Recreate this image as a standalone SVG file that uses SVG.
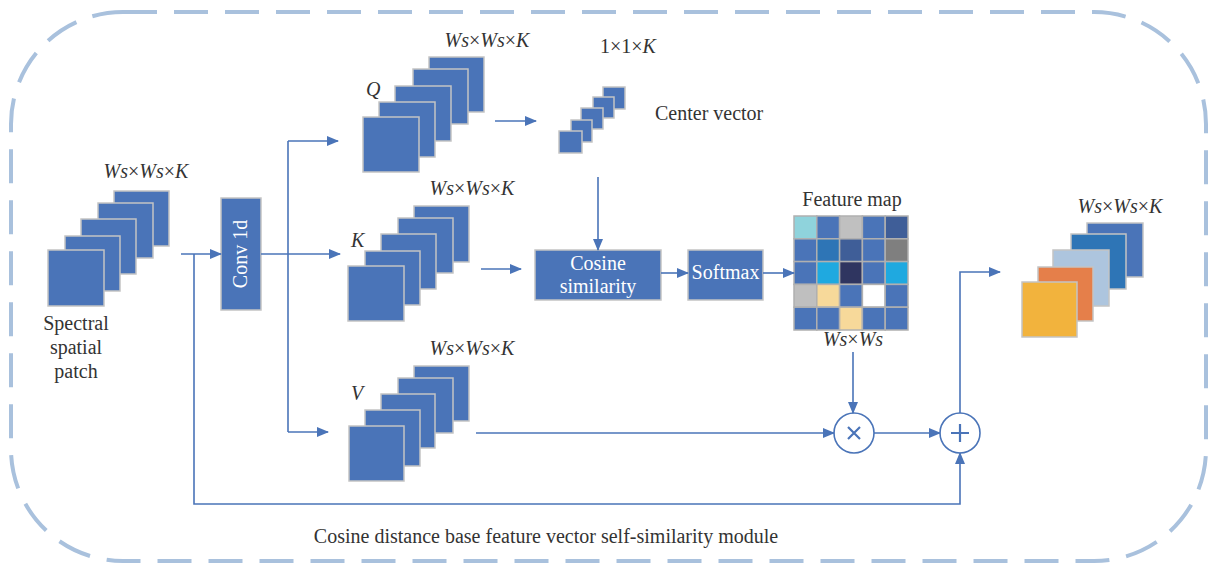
<svg xmlns="http://www.w3.org/2000/svg" width="1217" height="563" viewBox="0 0 1217 563">
<style>
.sq{fill:#4a74b8;stroke:#c4c4c4;stroke-width:1.5}
.box{fill:#4a74b8;stroke:#c4c4c4;stroke-width:1.5}
.ln{fill:none;stroke:#4a74b8;stroke-width:1.6}
.arr{marker-end:url(#ah)}
text{font-family:'Liberation Serif',serif;font-size:20px}
.t{fill:#333}
.i{font-style:italic}
.w{fill:#fff}
.fm rect{stroke:#b0b0b0;stroke-width:1.5}
</style>
<defs>
<marker id="ah" markerUnits="userSpaceOnUse" markerWidth="12" markerHeight="10" refX="11" refY="5" orient="auto">
<path d="M0,0 L12,5 L0,10 z" fill="#4a74b8"/>
</marker>
</defs>
<rect x="11" y="12" width="1195" height="549" rx="112" ry="112" fill="none" stroke="#a9c1dd" stroke-width="4" stroke-dasharray="34,17"/>

<g id="input">
<rect class="sq" x="114" y="191" width="55" height="55"/>
<rect class="sq" x="98" y="203" width="55" height="55"/>
<rect class="sq" x="81" y="219" width="55" height="55"/>
<rect class="sq" x="65" y="236" width="55" height="55"/>
<rect class="sq" x="48" y="250" width="56" height="56"/>
<text class="t" x="146" y="178" text-anchor="middle"><tspan class="i">Ws</tspan>×<tspan class="i">Ws</tspan>×<tspan class="i">K</tspan></text>
<text class="t" x="76" y="330" text-anchor="middle">Spectral</text>
<text class="t" x="76" y="354" text-anchor="middle">spatial</text>
<text class="t" x="76" y="378" text-anchor="middle">patch</text>
</g>

<g id="conv1d">
<rect class="box" x="221" y="198" width="40" height="112"/>
<text class="w" x="0" y="0" text-anchor="middle" transform="translate(247,254) rotate(-90)">Conv 1d</text>
</g>

<g id="Q">
<rect class="sq" x="429" y="57" width="55" height="55"/>
<rect class="sq" x="413" y="69" width="55" height="55"/>
<rect class="sq" x="395" y="86" width="56" height="55"/>
<rect class="sq" x="379" y="102" width="56" height="55"/>
<rect class="sq" x="363" y="117" width="56" height="55"/>
<text class="t i" x="366" y="96">Q</text>
<text class="t" x="487" y="47" text-anchor="middle"><tspan class="i">Ws</tspan>×<tspan class="i">Ws</tspan>×<tspan class="i">K</tspan></text>
</g>

<g id="center">
<rect class="sq" x="603" y="87" width="22" height="22"/>
<rect class="sq" x="593" y="97" width="21" height="21"/>
<rect class="sq" x="581" y="108" width="22" height="21"/>
<rect class="sq" x="571" y="120" width="21" height="22"/>
<rect class="sq" x="559" y="131" width="23" height="22"/>
<text class="t" x="628" y="53" text-anchor="middle">1×1×<tspan class="i">K</tspan></text>
<text class="t" x="655" y="120">Center vector</text>
</g>

<g id="K">
<rect class="sq" x="414" y="206" width="55" height="56"/>
<rect class="sq" x="398" y="218" width="55" height="55"/>
<rect class="sq" x="381" y="234" width="55" height="55"/>
<rect class="sq" x="365" y="251" width="55" height="54"/>
<rect class="sq" x="348" y="266" width="56" height="55"/>
<text class="t i" x="351" y="247">K</text>
<text class="t" x="472" y="195" text-anchor="middle"><tspan class="i">Ws</tspan>×<tspan class="i">Ws</tspan>×<tspan class="i">K</tspan></text>
</g>

<g id="V">
<rect class="sq" x="414" y="366" width="55" height="55"/>
<rect class="sq" x="398" y="378" width="55" height="55"/>
<rect class="sq" x="381" y="394" width="54" height="54"/>
<rect class="sq" x="365" y="410" width="55" height="56"/>
<rect class="sq" x="349" y="426" width="55" height="55"/>
<text class="t i" x="351" y="400">V</text>
<text class="t" x="472" y="355" text-anchor="middle"><tspan class="i">Ws</tspan>×<tspan class="i">Ws</tspan>×<tspan class="i">K</tspan></text>
</g>

<g id="cosine">
<rect class="box" x="535" y="250" width="126" height="50"/>
<text class="w" x="598" y="270" text-anchor="middle">Cosine</text>
<text class="w" x="598" y="293" text-anchor="middle">similarity</text>
</g>

<g id="softmax">
<rect class="box" x="688" y="250" width="75" height="50"/>
<text class="w" x="725.5" y="279" text-anchor="middle">Softmax</text>
</g>

<g id="featuremap">
<text class="t" x="852" y="206" text-anchor="middle">Feature map</text>
<g class="fm">
<rect x="794" y="216" width="22.8" height="22.8" fill="#8fd3dc"/>
<rect x="816.8" y="216" width="22.8" height="22.8" fill="#4a74b8"/>
<rect x="839.6" y="216" width="22.8" height="22.8" fill="#c0c0c0"/>
<rect x="862.4" y="216" width="22.8" height="22.8" fill="#4a74b8"/>
<rect x="885.2" y="216" width="22.8" height="22.8" fill="#3f5e98"/>
<rect x="794" y="238.8" width="22.8" height="22.8" fill="#4a74b8"/>
<rect x="816.8" y="238.8" width="22.8" height="22.8" fill="#2e75b6"/>
<rect x="839.6" y="238.8" width="22.8" height="22.8" fill="#3f5e98"/>
<rect x="862.4" y="238.8" width="22.8" height="22.8" fill="#4a74b8"/>
<rect x="885.2" y="238.8" width="22.8" height="22.8" fill="#7f7f7f"/>
<rect x="794" y="261.6" width="22.8" height="22.8" fill="#4a74b8"/>
<rect x="816.8" y="261.6" width="22.8" height="22.8" fill="#1fa9e0"/>
<rect x="839.6" y="261.6" width="22.8" height="22.8" fill="#2f3560"/>
<rect x="862.4" y="261.6" width="22.8" height="22.8" fill="#4a74b8"/>
<rect x="885.2" y="261.6" width="22.8" height="22.8" fill="#1fa9e0"/>
<rect x="794" y="284.4" width="22.8" height="22.8" fill="#bfbfbf"/>
<rect x="816.8" y="284.4" width="22.8" height="22.8" fill="#f7d99a"/>
<rect x="839.6" y="284.4" width="22.8" height="22.8" fill="#4a74b8"/>
<rect x="862.4" y="284.4" width="22.8" height="22.8" fill="#ffffff"/>
<rect x="885.2" y="284.4" width="22.8" height="22.8" fill="#4a74b8"/>
<rect x="794" y="307.2" width="22.8" height="22.8" fill="#4a74b8"/>
<rect x="816.8" y="307.2" width="22.8" height="22.8" fill="#4a74b8"/>
<rect x="839.6" y="307.2" width="22.8" height="22.8" fill="#f7d99a"/>
<rect x="862.4" y="307.2" width="22.8" height="22.8" fill="#4a74b8"/>
<rect x="885.2" y="307.2" width="22.8" height="22.8" fill="#4a74b8"/>
</g>
<text class="t" x="853" y="346" text-anchor="middle"><tspan class="i">Ws</tspan>×<tspan class="i">Ws</tspan></text>
</g>

<g id="multiply">
<circle cx="854" cy="433" r="20" fill="#fff" stroke="#4a74b8" stroke-width="1.6"/>
<path d="M848,427 L860,439 M860,427 L848,439" stroke="#4a74b8" stroke-width="2.2"/>
</g>

<g id="add">
<circle cx="960" cy="433" r="20" fill="#fff" stroke="#4a74b8" stroke-width="1.6"/>
<path d="M951,433 H969 M960,424 V442" stroke="#4a74b8" stroke-width="2.2"/>
</g>

<g id="output">
<rect x="1087" y="223" width="56" height="54" fill="#4a74b8" stroke="#c4c4c4" stroke-width="1.5"/>
<rect x="1071" y="234" width="55" height="55" fill="#2e75b6" stroke="#c4c4c4" stroke-width="1.5"/>
<rect x="1053" y="250" width="56" height="56" fill="#adc5de" stroke="#c4c4c4" stroke-width="1.5"/>
<rect x="1038" y="267" width="55" height="54" fill="#e57f4a" stroke="#c4c4c4" stroke-width="1.5"/>
<rect x="1022" y="282" width="55" height="55" fill="#f2b33d" stroke="#c4c4c4" stroke-width="1.5"/>
<text class="t" x="1120" y="213" text-anchor="middle"><tspan class="i">Ws</tspan>×<tspan class="i">Ws</tspan>×<tspan class="i">K</tspan></text>
</g>

<g id="connectors">
<path class="ln arr" d="M181,254 H221"/>
<path class="ln arr" d="M194,254 V504 H960 V453"/>
<path class="ln arr" d="M261,254 H340"/>
<path class="ln" d="M288,141 V432"/>
<path class="ln arr" d="M288,141 H338"/>
<path class="ln arr" d="M288,432 H328"/>
<path class="ln arr" d="M495,121 H536"/>
<path class="ln arr" d="M598,177 V250"/>
<path class="ln arr" d="M481,269 H521"/>
<path class="ln arr" d="M661,273 H688"/>
<path class="ln arr" d="M763,273 H794"/>
<path class="ln arr" d="M853,352 V413"/>
<path class="ln arr" d="M476,433 H834"/>
<path class="ln arr" d="M874,433 H940"/>
<path class="ln arr" d="M960,413 V272 H1000"/>
</g>

<text class="t" x="546" y="543" text-anchor="middle">Cosine distance base feature vector self-similarity module</text>
</svg>
